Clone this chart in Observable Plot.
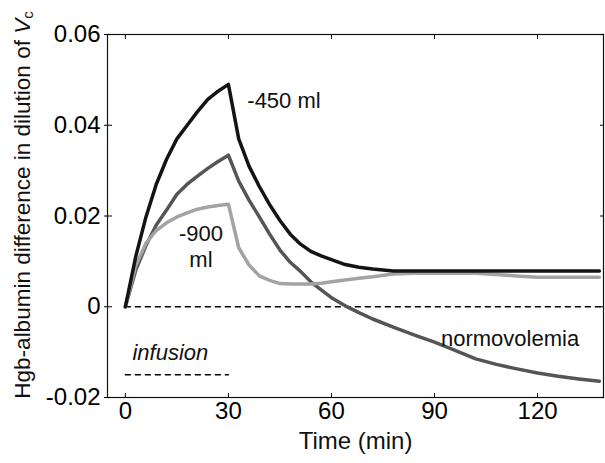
<!DOCTYPE html>
<html><head><meta charset="utf-8">
<script src="https://cdn.jsdelivr.net/npm/d3@7"></script>
<script src="https://cdn.jsdelivr.net/npm/@observablehq/plot@0.6"></script>
<style>body{margin:0;background:#fff}</style>
</head><body><div id="chart"></div>
<script>
// time (min)
const time = [0,3,6,9,12,15,18,21,24,27,30,33,36,39,42,45,48,51,54,57,60,64,68,72,78,84,90,96,102,108,114,120,126,132,138];
// -450 ml
const minus450 = [0,0.011,0.0198,0.027,0.0325,0.037,0.040,0.043,0.0457,0.0475,0.049,
  0.037,0.031,0.0265,0.0225,0.019,0.016,0.0138,0.0122,0.0112,0.0104,
  0.0093,0.0087,0.0083,0.0079,0.0079,0.0079,0.0079,0.0079,0.0079,0.0079,0.0079,0.0079,0.0079,0.0079];
// -900 ml
const minus900 = [0,0.009,0.014,0.0168,0.0185,0.0198,0.0207,0.0215,0.022,0.0223,0.0226,
  0.013,0.0092,0.0068,0.0058,0.0051,0.005,0.005,0.005,0.0052,0.0055,
  0.0059,0.0063,0.0066,0.0072,0.0074,0.0074,0.0074,0.0074,0.0071,0.0068,0.0065,0.0065,0.0065,0.0065];
// normovolemia
const normovolemia = [0,0.008,0.0135,0.018,0.0213,0.0248,0.027,0.0288,0.0305,0.032,0.0334,
  0.0277,0.0235,0.0198,0.016,0.0125,0.0098,0.0078,0.0055,0.0037,0.002,
  0.0002,-0.0013,-0.0027,-0.0045,-0.0062,-0.0078,-0.0096,-0.0115,-0.0127,-0.0137,-0.0146,-0.0153,-0.0159,-0.0164];

const xTicks = [0,30,60,90,120];
const xTickLabels = ["0","30","60","90","120"];
const yTicks = [-0.02,0,0.02,0.04,0.06];
const yTickLabels = ["-0.02","0","0.02","0.04","0.06"];
const xDomain = [-5.2,139.2];
const yDomain = [-0.02,0.06];

const zeroLineX = [0,139.2];
const infusionX = [0,30];
const infusionY = -0.015;

const startLabels = [{text:"-450 ml", t:35.5, v:0.0453}];
const middleLabels = [
  {text:"-900\nml", t:22, v:0.0134},
  {text:"normovolemia", t:112, v:-0.0068}
];
const italicLabels = [{text:"infusion", t:13.1, v:-0.0101}];

const rows = arr => time.map((t,i)=>({t, v:arr[i]}));
const fmtX = d => xTickLabels[xTicks.indexOf(d)];
const fmtY = d => yTickLabels[yTicks.indexOf(d)];

const chart = Plot.plot({
  width:605, height:463,
  marginLeft:107, marginRight:2, marginTop:34, marginBottom:66,
  x:{domain:xDomain},
  y:{domain:yDomain},
  style:{fontFamily:"'Liberation Sans', Arial, sans-serif", fontSize:"22px", background:"#fff", color:"#000"},
  marks:[
    Plot.frame({stroke:"#111", strokeWidth:1.2}),
    Plot.axisX(xTicks, {anchor:"bottom", tickSize:0, tickPadding:4, tickFormat:fmtX, fontSize:24, label:null}),
    Plot.axisX(xTicks, {anchor:"bottom", tickSize:-4, tickFormat:()=>"", label:null}),
    Plot.axisX(xTicks, {anchor:"top", tickSize:-4, tickFormat:()=>"", label:null}),
    Plot.axisY(yTicks, {anchor:"left", tickSize:3, tickPadding:4, tickFormat:fmtY, fontSize:24, label:null}),
    Plot.axisY(yTicks, {anchor:"left", tickSize:-5, tickFormat:()=>"", label:null}),
    Plot.axisY(yTicks, {anchor:"right", tickSize:-4, tickFormat:()=>"", label:null}),
    Plot.line(zeroLineX, {x:d=>d, y:()=>0, stroke:"#000", strokeWidth:1.5, strokeDasharray:"5,5"}),
    Plot.line(infusionX, {x:d=>d, y:()=>infusionY, stroke:"#000", strokeWidth:1.5, strokeDasharray:"5,5"}),
    Plot.line(rows(normovolemia), {x:"t", y:"v", stroke:"#555", strokeWidth:3.5}),
    Plot.line(rows(minus900), {x:"t", y:"v", stroke:"#a3a3a3", strokeWidth:3.5}),
    Plot.line(rows(minus450), {x:"t", y:"v", stroke:"#141414", strokeWidth:3.5}),
    Plot.text(startLabels, {x:"t", y:"v", text:"text", textAnchor:"start", fontSize:22, fill:"#111"}),
    Plot.text(middleLabels, {x:"t", y:"v", text:"text", textAnchor:"middle", lineHeight:1.18, fontSize:22, fill:"#111"}),
    Plot.text(italicLabels, {x:"t", y:"v", text:"text", textAnchor:"middle", fontStyle:"italic", fontSize:22, fill:"#111"}),
    Plot.text(["Time (min)"], {frameAnchor:"bottom", dy:51, fontSize:24, fill:"#111"})
  ]
});
document.getElementById("chart").appendChild(chart);

const svg = d3.select(chart);
const ylab = svg.append("text")
  .attr("transform","translate(22,205) rotate(-90)")
  .attr("text-anchor","middle")
  .attr("dominant-baseline","central")
  .attr("font-size",22.5)
  .attr("fill","#111");
ylab.append("tspan").text("Hgb-albumin difference in dilution of ");
ylab.append("tspan").attr("font-style","italic").text("V");
ylab.append("tspan").attr("font-size",15).attr("dy","5").text("c");
</script></body></html>
